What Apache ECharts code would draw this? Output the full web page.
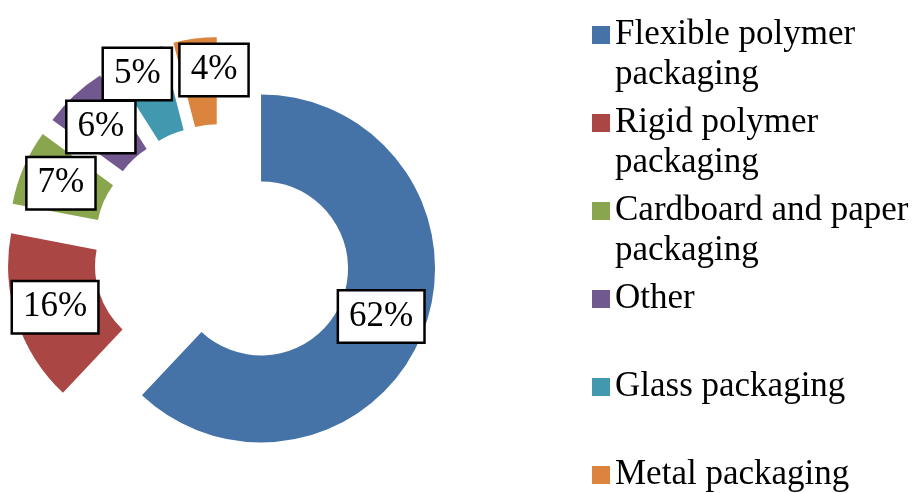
<!DOCTYPE html>
<html>
<head>
<meta charset="utf-8">
<script src="https://cdn.jsdelivr.net/npm/echarts@6/dist/echarts.min.js"></script>
<style>
  html, body { margin: 0; padding: 0; background: #fff; }
  #chart { width: 913px; height: 493px; }
</style>
</head>
<body>
<div id="chart"></div>
<script>
const categories = [
  'Flexible polymer packaging',
  'Rigid polymer packaging',
  'Cardboard and paper packaging',
  'Other',
  'Glass packaging',
  'Metal packaging'
]
const shares = [62, 16, 7, 6, 5, 4]
const colors = ['#4572A7', '#AA4643', '#89A54E', '#71588F', '#4198AF', '#DB843D']

// small nudges for the crowded labels (px), by slice index
const labelNudge = [[-4, -1], [0, 0], [0, 0], [-1, 2], [-15, -18], [14, -9]]

const serif = "'Liberation Serif', 'Times New Roman', serif"

const chart = echarts.init(document.getElementById('chart'))

// legend: blank first line so the icon sits on the first text line
const legendText = name => {
  let l1 = name
  let l2 = ' '
  if (name.length > 16) {
    const i = name.lastIndexOf(' ')
    l1 = name.slice(0, i)
    l2 = name.slice(i + 1)
  }
  return ' \n' + l1 + '\n' + l2
}

const option = {
  backgroundColor: '#fff',
  animation: false,
  color: colors,
  legend: {
    orient: 'vertical',
    left: 587,
    top: -30,
    height: 1000,
    itemWidth: 18,
    itemHeight: 18,
    itemGap: -32,
    icon: 'rect',
    selectedMode: false,
    formatter: legendText,
    textStyle: {
      fontFamily: serif,
      fontSize: 35,
      lineHeight: 40,
      color: '#000'
    },
    data: categories
  },
  series: [
    {
      type: 'pie',
      center: [222, 253],
      radius: [87, 174],
      startAngle: 90,
      clockwise: true,
      selectedMode: 'multiple',
      selectedOffset: 42,
      emphasis: { disabled: true },
      label: {
        show: true,
        position: 'inside',
        formatter: '{c}%',
        fontFamily: serif,
        fontSize: 35,
        lineHeight: 40,
        color: '#000',
        backgroundColor: '#fff',
        borderColor: '#000',
        borderWidth: 2.5,
        padding: [5, 10, 5, 10]
      },
      labelLine: { show: false },
      labelLayout: params => ({
        dx: labelNudge[params.dataIndex][0],
        dy: labelNudge[params.dataIndex][1]
      }),
      data: categories.map((name, i) => ({
        name: name,
        value: shares[i],
        selected: true
      }))
    }
  ]
}

chart.setOption(option)
window.addEventListener('resize', () => chart.resize())
</script>
</body>
</html>
